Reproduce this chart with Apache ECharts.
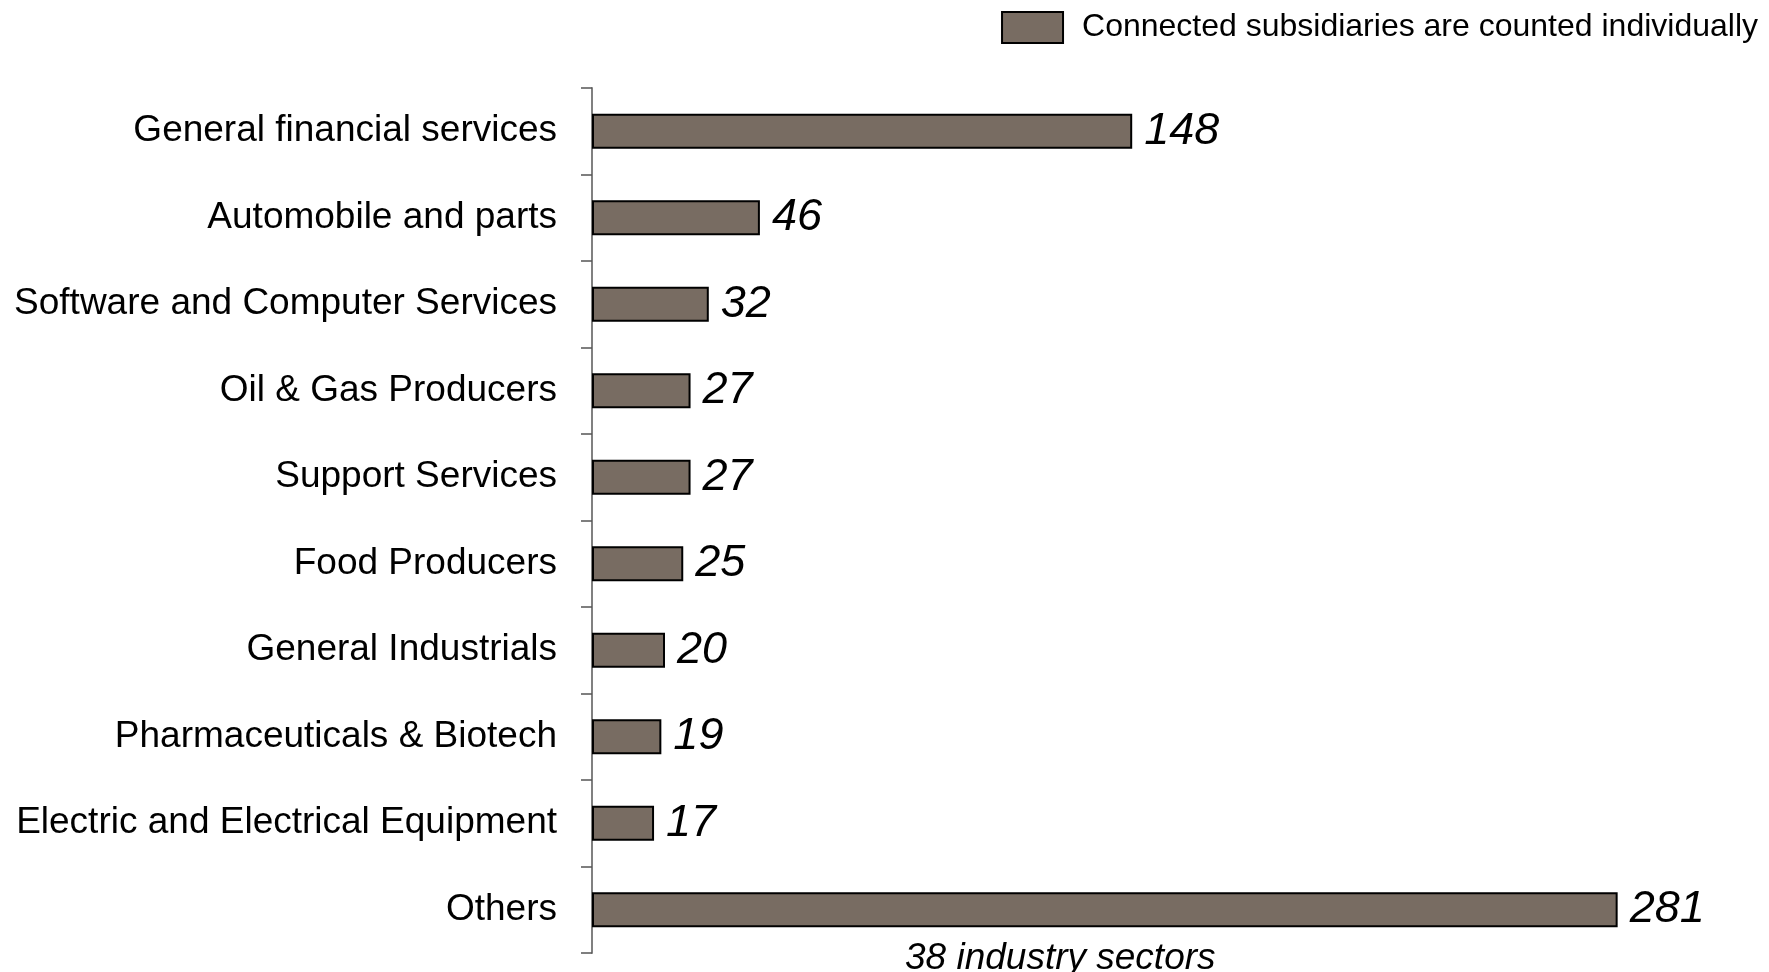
<!DOCTYPE html>
<html>
<head>
<meta charset="utf-8">
<script src="https://cdn.jsdelivr.net/npm/echarts@6/dist/echarts.min.js"></script>
<style>html,body{margin:0;padding:0;background:#fff;}#c{width:1769px;height:972px;}</style>
</head>
<body>
<div id="c"></div>
<script>
const categories = [
  "General financial services",
  "Automobile and parts",
  "Software and Computer Services",
  "Oil & Gas Producers",
  "Support Services",
  "Food Producers",
  "General Industrials",
  "Pharmaceuticals & Biotech",
  "Electric and Electrical Equipment",
  "Others"
];
const values = [148, 46, 32, 27, 27, 25, 20, 19, 17, 281];
const seriesName = "Connected subsidiaries are counted individually";
const othersNote = "38 industry sectors";

const chart = echarts.init(document.getElementById('c'));
const FONT = "'Liberation Sans', Arial, sans-serif";
chart.setOption({
  animation: false,
  backgroundColor: '#ffffff',
  legend: {
    right: 6,
    top: 6,
    itemWidth: 61,
    itemHeight: 31,
    icon: 'rect',
    textStyle: { fontFamily: FONT, fontSize: 32, color: '#000', padding: [0, 0, 0, 14] },
    data: [{ name: seriesName, icon: 'rect', itemStyle: { color: '#786c62', borderColor: '#000', borderWidth: 2 } }]
  },
  grid: { left: 592, top: 88, bottom: 19, right: 82, containLabel: false },
  xAxis: {
    type: 'value', min: 0, max: 300, show: false
  },
  yAxis: {
    type: 'category',
    inverse: true,
    data: categories,
    axisLine: { show: true, lineStyle: { color: '#808080', width: 2 } },
    axisTick: { show: true, inside: false, length: 11, lineStyle: { color: '#555', width: 1.5 } },
    axisLabel: { fontFamily: FONT, fontSize: 37, color: '#000', margin: 35, padding: [5, 0, 0, 0] },
    splitLine: { show: false }
  },
  series: [{
    name: seriesName,
    type: 'bar',
    data: values,
    barWidth: 35,
    itemStyle: { color: '#786c62', borderColor: '#000', borderWidth: 2 },
    label: {
      show: true, position: 'right', distance: 12,
      fontFamily: FONT, fontSize: 45, fontStyle: 'italic', color: '#000'
    }
  }],
  graphic: [{
    type: 'text',
    left: 905, top: 940,
    style: { text: othersNote, fontFamily: FONT, fontSize: 37, fontStyle: 'italic', fill: '#000' }
  }]
});
</script>
</body>
</html>
